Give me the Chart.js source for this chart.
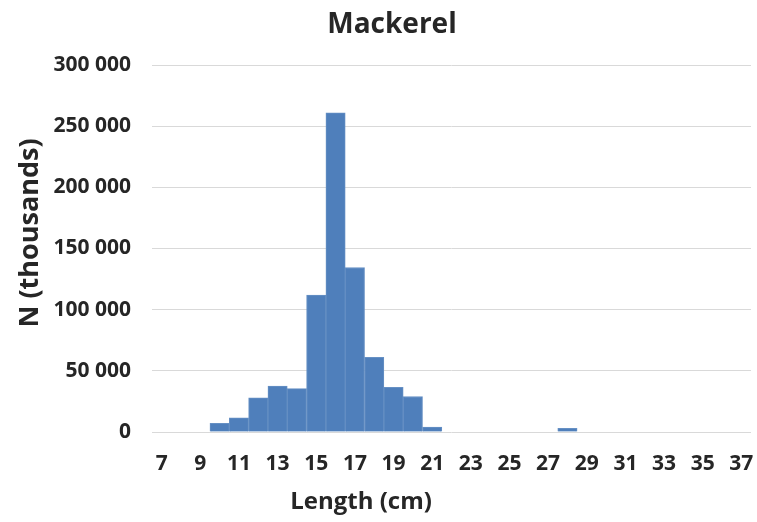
<!DOCTYPE html>
<html>
<head>
<meta charset="utf-8">
<title>Mackerel</title>
<script src="https://cdn.jsdelivr.net/npm/chart.js@4/dist/chart.umd.min.js"></script>
<style>
  html, body { margin: 0; padding: 0; background: #ffffff; }
  #wrap { width: 757px; height: 522px; }
</style>
</head>
<body>
<div id="wrap"><canvas id="chart" width="757" height="522"></canvas></div>
<script>
// Length classes (cm)
const lengths = [7, 8, 9, 10, 11, 12, 13, 14, 15, 16, 17, 18, 19, 20, 21, 22,
                 23, 24, 25, 26, 27, 28, 29, 30, 31, 32, 33, 34, 35, 36, 37];
// Number of fish per length class (thousands)
const counts = [0, 0, 0, 7000, 11500, 28000, 37600, 35400, 112000, 261000, 134500,
                61000, 36500, 29000, 4000, 0, 0, 0, 0, 0, 0, 3000, 0, 0, 0, 0, 0, 0, 0, 0, 0];

const chartTitle = 'Mackerel';
const xTitle = 'Length (cm)';
const yTitle = 'N (thousands)';

const FONT = '"Open Sans", "Liberation Sans", sans-serif';
const TEXT = '#262626';

function spaced(v) {
  return String(v).replace(/\B(?=(\d{3})+(?!\d))/g, ' ');
}

// Titles placed as free text around the plot
const titlesPlugin = {
  id: 'titles',
  afterDraw(chart) {
    const ctx = chart.ctx;
    ctx.save();
    ctx.fillStyle = TEXT;
    ctx.textAlign = 'center';
    ctx.textBaseline = 'alphabetic';
    ctx.font = 'bold 28px ' + FONT;
    ctx.fillText(chartTitle, 392, 33);
    ctx.font = 'bold 24px ' + FONT;
    ctx.fillText(xTitle, 361, 509);
    ctx.translate(38, 233);
    ctx.rotate(-Math.PI / 2);
    ctx.font = 'bold 27px ' + FONT;
    ctx.fillText(yTitle, 0, 0);
    ctx.restore();
  }
};

new Chart(document.getElementById('chart'), {
  type: 'bar',
  data: {
    labels: lengths.map(String),
    datasets: [{
      data: counts,
      backgroundColor: '#4f7fbb',
      borderColor: '#6690c4',
      borderWidth: 1,
      barPercentage: 1.0,
      categoryPercentage: 1.0
    }]
  },
  options: {
    responsive: false,
    animation: false,
    layout: { padding: { top: 65, right: 6, left: 0, bottom: 0 } },
    plugins: {
      legend: { display: false },
      title: { display: false },
      tooltip: { enabled: false }
    },
    scales: {
      x: {
        grid: { display: false, drawTicks: false },
        border: { display: false },
        ticks: {
          autoSkip: false,
          maxRotation: 0,
          padding: 19,
          color: TEXT,
          font: { family: FONT, size: 21, weight: 'bold' },
          callback: function (v, i) { return i % 2 === 0 ? this.getLabelForValue(v) : ''; }
        },
        afterFit(scale) {
          scale.height = 90;
          scale.paddingLeft = 0;
          scale.paddingRight = 0;
        }
      },
      y: {
        min: 0,
        max: 300000,
        grid: { color: '#d9d9d9', lineWidth: 1, drawTicks: false },
        border: { display: false },
        ticks: {
          stepSize: 50000,
          padding: 21,
          color: TEXT,
          font: { family: FONT, size: 21, weight: 'bold' },
          callback: (v) => spaced(v)
        },
        afterFit(scale) {
          scale.width = 152;
          scale.paddingTop = 0;
          scale.paddingBottom = 0;
        }
      }
    }
  },
  plugins: [titlesPlugin]
});
</script>
</body>
</html>
